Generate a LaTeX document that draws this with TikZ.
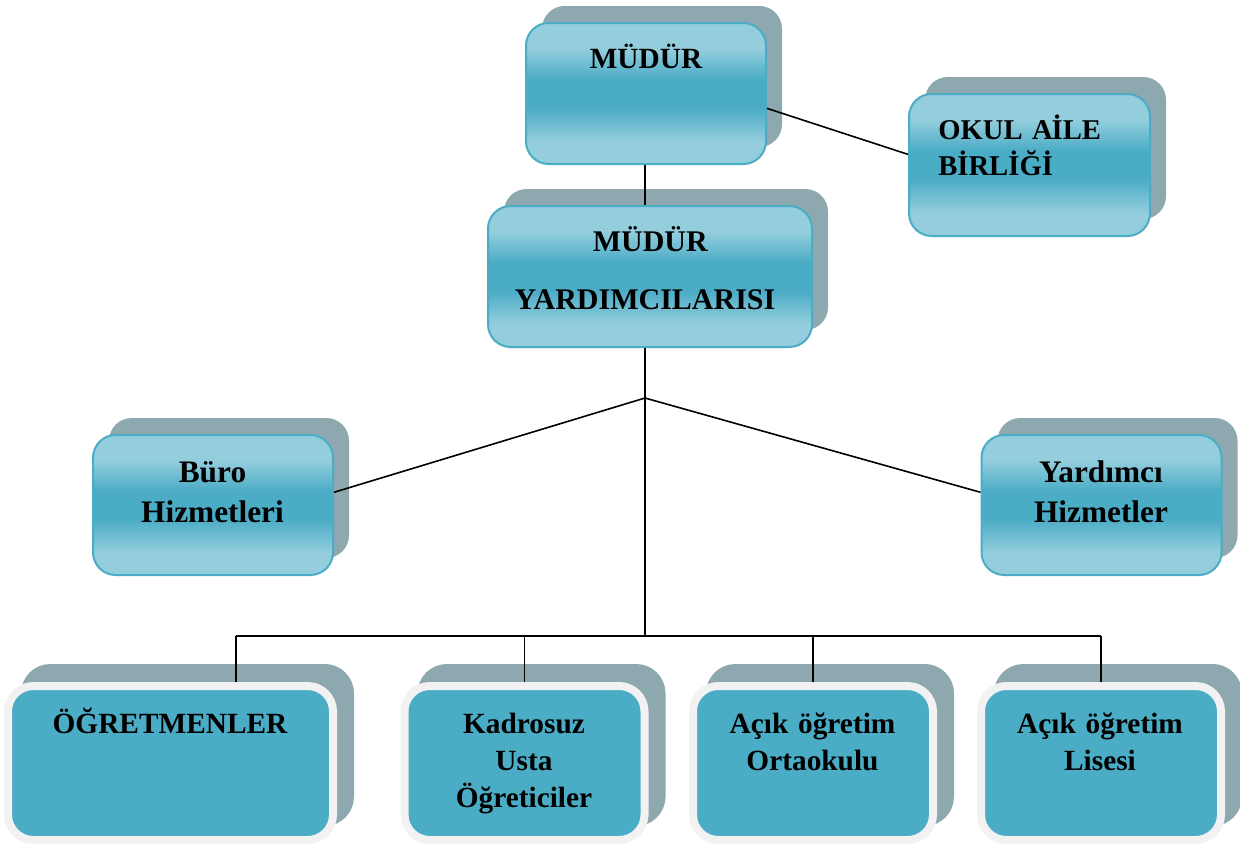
\documentclass[tikz,border=0pt]{standalone}
\usepackage{fontspec}
\setmainfont{Liberation Serif}
\usetikzlibrary{shadows}
\definecolor{boxlight}{RGB}{148,206,221}
\definecolor{boxdark}{RGB}{75,172,198}
\definecolor{shadowgray}{RGB}{141,169,175}
\definecolor{framewhite}{RGB}{242,242,242}
\pgfdeclareverticalshading{boxband}{100bp}{color(0bp)=(boxlight); color(25bp)=(boxlight); color(33bp)=(boxlight); color(45bp)=(boxdark); color(55bp)=(boxdark); color(66bp)=(boxlight); color(75bp)=(boxlight); color(100bp)=(boxlight)}

\begin{document}
\begin{tikzpicture}[x=0.75pt,y=0.75pt,yscale=-1,xscale=1,
  upperbox/.style={draw=boxdark, line width=1.5pt, rounded corners=17pt, shading=boxband,
    minimum width=180pt, minimum height=105.75pt, inner sep=0pt,
    drop shadow={shadow xshift=12pt, shadow yshift=12.75pt, fill=shadowgray, opacity=1}},
  lowerbox/.style={draw=framewhite, line width=6pt, fill=boxdark, rounded corners=19pt,
    minimum width=180pt, minimum height=115.5pt, inner sep=0pt,
    drop shadow={shadow xshift=12.75pt, shadow yshift=13.5pt, fill=shadowgray, draw=shadowgray, line width=6pt, opacity=1}},
  boxtext/.style={inner sep=0pt, text width=260pt, align=center, font=\fontsize{22}{27.75}\selectfont\bfseries},
  link/.style={draw=black, line width=1.2pt}
]
\useasboundingbox (0,0) rectangle (1240,844);

%Shape: Rounded Rect (upper levels)
\node[upperbox] (mudur) at (646,93.5) {};
\node[upperbox, minimum width=180.75pt, minimum height=106.5pt] (okul) at (1029.5,165) {};
\node[upperbox, minimum width=243pt] (myard) at (650,276.5) {};
\node[upperbox, minimum height=105pt] (buro) at (213,505) {};
\node[upperbox, minimum height=105pt] (yardimci) at (1101.5,505) {};

%Shape: Rounded Rect (bottom row)
\node[lowerbox, minimum width=243.75pt] (ogret) at (170.5,763) {};
\node[lowerbox] (kadro) at (524.5,763) {};
\node[lowerbox] (ortaokul) at (813,763) {};
\node[lowerbox] (lise) at (1101,763) {};

% Text Node
\node[boxtext, anchor=base] (mudur-t) at (646,68) {MÜDÜR};
% Text Node
\node[boxtext, anchor=base west, text width=200pt, align=left, font=\fontsize{21.5}{27}\selectfont\bfseries] (okul-t) at (938,139) {OKUL A\kern-1ptİLE\\BİRLİĞİ};
% Text Node
\node[boxtext, anchor=base, font=\fontsize{22.5}{43.5}\selectfont\bfseries] (myard-t) at (645,251) {\hspace*{8pt}MÜDÜR\\YARDIMCILARISI};
% Text Node
\node[boxtext, anchor=base, font=\fontsize{23.5}{30}\selectfont\bfseries] (buro-t) at (212.5,482) {Büro\\Hizmetleri};
% Text Node
\node[boxtext, anchor=base, font=\fontsize{23.5}{30}\selectfont\bfseries] (yardimci-t) at (1101,482) {Yardımcı\\Hizmetler};
% Text Node
\node[boxtext, anchor=base] (ogret-t) at (170,733) {ÖĞRETMENLER};
% Text Node
\node[boxtext, anchor=base] (kadro-t) at (524,733) {Kadrosuz\\Usta\\Öğreticiler};
% Text Node
\node[boxtext, anchor=base] (ortaokul-t) at (812.5,733) {Açık öğretim\\Ortaokulu};
% Text Node
\node[boxtext, anchor=base] (lise-t) at (1100,733) {Açık öğretim\\Lisesi};

%Straight Lines
\coordinate (junc) at (645,398);
\coordinate (bus) at (645,636);
\coordinate (busl) at (236,636);
\coordinate (busr) at (1101,636);
\draw[link] (mudur.south -| junc) -- (myard.north -| junc);
\draw[link] (mudur.-7) -- (okul.175);
\draw[link] (myard.south -| junc) -- (junc) -- (bus);
\draw[link] (junc) -- (buro.6);
\draw[link] (junc) -- (yardimci.174);
\draw[link] (busl) -- (busr);
\draw[link] (busl) -- (busl |- ogret.north);
\draw[link] (kadro.north |- bus) -- (kadro.north);
\draw[link] (ortaokul.north |- bus) -- (ortaokul.north);
\draw[link] (lise.north |- bus) -- (lise.north);

\end{tikzpicture}
\end{document}
